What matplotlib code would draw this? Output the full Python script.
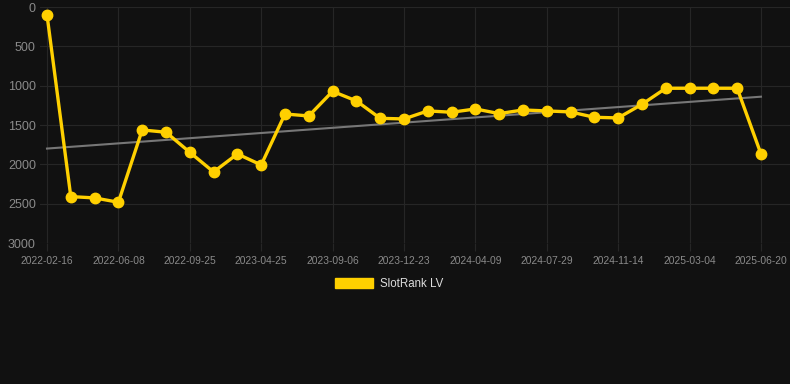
import matplotlib
matplotlib.use("Agg")
import matplotlib.pyplot as plt
from matplotlib.patches import Patch
import numpy as np

dates = [
    "2022-02-16", "2022-03-23", "2022-04-30", "2022-06-08", "2022-07-14", "2022-08-19",
    "2022-09-25", "2022-12-03", "2023-02-13", "2023-04-25", "2023-06-08", "2023-07-23",
    "2023-09-06", "2023-10-12", "2023-11-17", "2023-12-23", "2024-01-28", "2024-03-04",
    "2024-04-09", "2024-05-15", "2024-06-22", "2024-07-29", "2024-09-03", "2024-10-09",
    "2024-11-14", "2024-12-20", "2025-01-26", "2025-03-04", "2025-04-09", "2025-05-15",
    "2025-06-20",
]
ranks = [
    100, 2410, 2427, 2482, 1563, 1592, 1847, 2097, 1868, 2008,
    1360, 1385, 1072, 1194, 1415, 1423, 1321, 1338, 1296, 1355,
    1309, 1321, 1334, 1402, 1410, 1237, 1033, 1033, 1033, 1033,
    1868,
]
series_name = "SlotRank LV"

bg = "#111111"
line_color = "#FFD000"
grid_color = "#262626"
tick_color = "#8a8a8a"

plt.rcParams['font.family'] = ['Liberation Sans', 'DejaVu Sans']

fig = plt.figure(figsize=(7.9, 3.84), dpi=100, facecolor=bg)
ax = fig.add_axes([40/790, (384-243)/384, 750/790, 236/384], facecolor=bg)

x = np.arange(len(ranks))
y = np.array(ranks, dtype=float)

# trend line (linear regression)
k, b = np.polyfit(x, y, 1)
ax.plot([x[0], x[-1]], [k*x[0]+b, k*x[-1]+b], color="#777777", lw=1.5, zorder=2)

ax.plot(x, y, color=line_color, lw=2.4, marker="o", markersize=7.5,
        markerfacecolor=line_color, markeredgecolor=line_color, zorder=3)

ax.set_ylim(3000, 0)
ax.set_xlim(-0.294, 31.22)
ax.set_yticks([0, 500, 1000, 1500, 2000, 2500, 3000])
tick_idx = list(range(0, len(dates), 3))
ax.set_xticks(tick_idx)
ax.set_xticklabels([dates[i] for i in tick_idx])

ax.grid(True, color=grid_color, lw=0.8)
ax.set_axisbelow(True)
for s in ax.spines.values():
    s.set_visible(False)
ax.tick_params(axis='x', colors=tick_color, labelsize=7.4, length=6, color=grid_color, pad=3)
ax.tick_params(axis='y', colors=tick_color, labelsize=9, length=0, pad=3)

handle = Patch(facecolor=line_color, edgecolor=line_color)
leg = fig.legend([handle], [series_name], loc="center", bbox_to_anchor=(389/790, 1 - 284/384),
                 frameon=False, fontsize=8.3, handlelength=3.3, handleheight=1.0,
                 handletextpad=0.55, labelcolor="#dddddd")

fig.savefig("out.png", dpi=100, facecolor=bg)
